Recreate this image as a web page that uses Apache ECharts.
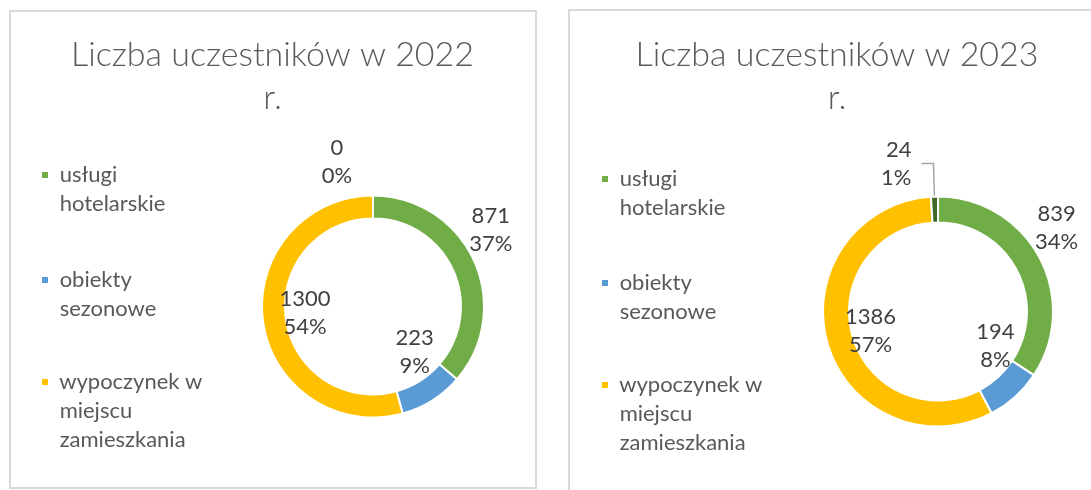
<!DOCTYPE html>
<html>
<head>
<meta charset="utf-8">
<script src="https://cdn.jsdelivr.net/npm/echarts@6/dist/echarts.min.js"></script>
<style>
html,body{margin:0;padding:0;background:#fff;}
#c{width:1091px;height:490px;}
</style>
</head>
<body>
<div id="c"></div>
<script>
// ---- data ----
const categories = ['usługi hotelarskie', 'obiekty sezonowe', 'wypoczynek w miejscu zamieszkania', 'inne'];
const legendLines = [['usługi', 'hotelarskie'], ['obiekty', 'sezonowe'], ['wypoczynek w', 'miejscu', 'zamieszkania']];
const values2022 = [871, 223, 1300, 0];
const values2023 = [839, 194, 1386, 24];
const title2022 = 'Liczba uczestników w 2022\nr.';
const title2023 = 'Liczba uczestników w 2023\nr.';

// ---- styling ----
const colors = ['#70AD47', '#5B9BD5', '#FFC000', '#43682B'];
const labelOffsets2022 = [[24.5, -34], [-13, -41.6], [33.6, -7], [-36, -42]];
const labelOffsets2023 = [[26, -34], [-13, -43.5], [33.6, -9], [0, 0]];
const FONT = 'Lato';
const LEG_LH = 29;

function pieSeries(values, center, radius, offsets, outsideIdx) {
  return {
    type: 'pie',
    center: center,
    radius: radius,
    startAngle: 90,
    clockwise: true,
    percentPrecision: 0,
    avoidLabelOverlap: false,
    silent: true,
    emphasis: { disabled: true },
    itemStyle: { borderColor: '#ffffff', borderWidth: 2 },
    label: {
      show: true,
      position: 'inside',
      formatter: '{c}\n{d}%',
      color: '#404040',
      fontFamily: FONT,
      fontSize: 22,
      lineHeight: 28
    },
    labelLine: { show: false },
    labelLayout: function (p) {
      const o = offsets[p.dataIndex];
      return { dx: o[0], dy: o[1] };
    },
    data: values.map(function (v, i) {
      const d = { name: categories[i], value: v, itemStyle: { color: colors[i] } };
      if (i === outsideIdx) {
        d.label = { position: 'outside', distanceToLabelLine: 10 };
        d.labelLine = { show: true, length: 33, length2: 12, lineStyle: { color: '#a6a6a6', width: 1.5 } };
      }
      return d;
    })
  };
}

// legend: first text line aligned with the marker (Excel style)
function legendsFor(left, iconCenters) {
  return legendLines.map(function (lines, i) {
    const n = lines.length;
    const blockH = (2 * n - 1) * LEG_LH;
    return {
      orient: 'vertical',
      left: left,
      top: iconCenters[i] - blockH / 2,
      padding: 0,
      icon: 'rect',
      itemWidth: 8,
      itemHeight: 8,
      selectedMode: false,
      data: [categories[i]],
      formatter: function () {
        return '\n'.repeat(n - 1) + lines.map(function (l) { return '\u00a0' + l; }).join('\n');
      },
      textStyle: {
        color: '#595959',
        fontFamily: FONT,
        fontSize: 22,
        lineHeight: LEG_LH
      }
    };
  });
}

const titleStyle = { fontFamily: FONT, fontWeight: 300, fontSize: 34, lineHeight: 43, color: '#595959' };

const chart = echarts.init(document.getElementById('c'), null, { renderer: 'canvas' });
chart.setOption({
  animation: false,
  backgroundColor: '#ffffff',
  title: [
    { text: title2022, left: 272.5, top: 34, textAlign: 'center', padding: 0, textStyle: titleStyle },
    { text: title2023, left: 837, top: 34, textAlign: 'center', padding: 0, textStyle: titleStyle }
  ],
  legend: legendsFor(40, [175, 280, 382]).concat(legendsFor(600, [179, 283, 385])),
  graphic: [
    { type: 'rect', silent: true, z: -10, shape: { x: 10, y: 11, width: 526, height: 477 }, style: { fill: 'none', stroke: '#d9d9d9', lineWidth: 2 } },
    { type: 'rect', silent: true, z: -10, shape: { x: 569, y: 10, width: 600, height: 600 }, style: { fill: 'none', stroke: '#d9d9d9', lineWidth: 2 } }
  ],
  series: [
    pieSeries(values2022, [373, 306.5], [88, 111], labelOffsets2022, -1),
    pieSeries(values2023, [938, 311.5], [89, 115], labelOffsets2023, 3)
  ]
});
</script>
</body>
</html>
